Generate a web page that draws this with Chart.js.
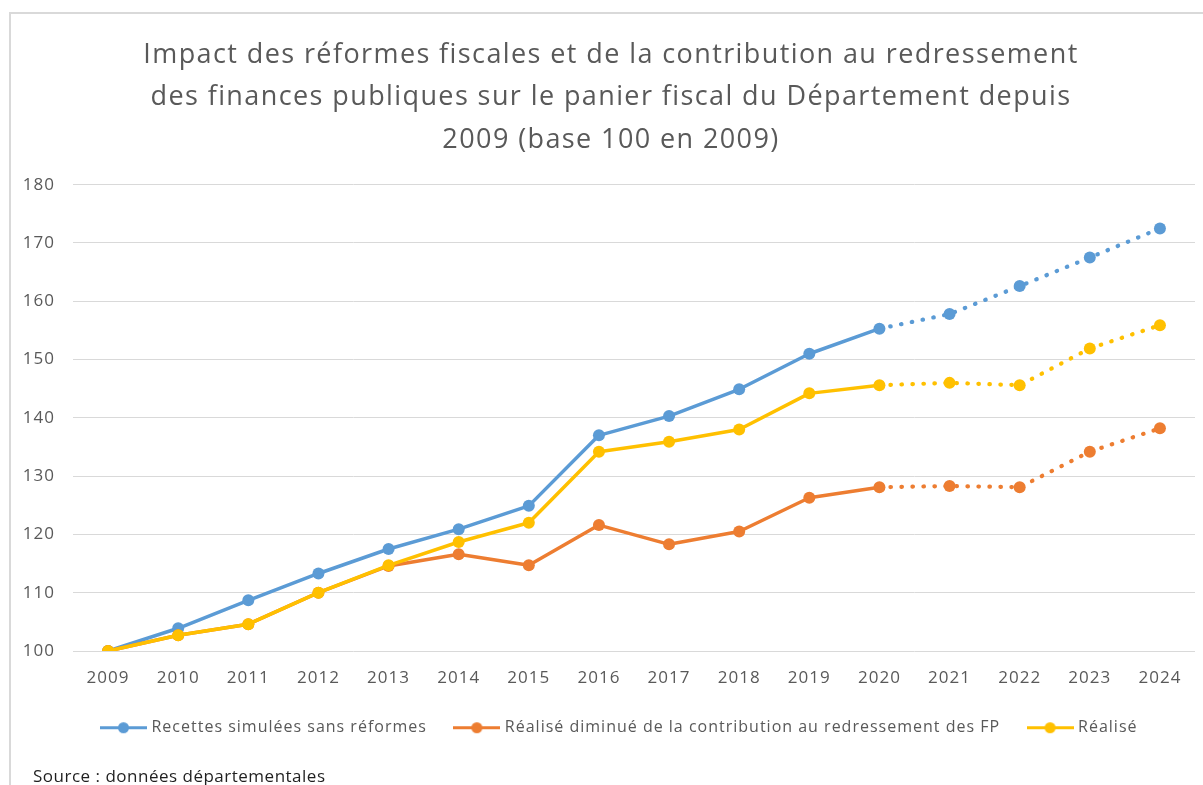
<!DOCTYPE html>
<html>
<head>
<meta charset="utf-8">
<script src="https://cdn.jsdelivr.net/npm/chart.js@4.4.1/dist/chart.umd.min.js"></script>
<style>
  html, body { margin: 0; padding: 0; background: #ffffff; }
  #wrap { position: relative; width: 1203px; height: 785px; overflow: hidden; }
  #frame { position: absolute; left: 9px; top: 12px; width: 1300px; height: 900px;
           border-top: 2px solid #d9d9d9; border-left: 2px solid #d9d9d9; }
  #c { position: absolute; left: 0; top: 0; }
  #source { position: absolute; left: 33px; top: 764px; font-family: "Open Sans", sans-serif;
            font-size: 17px; line-height: 1.362; letter-spacing: 0.5px; color: #1f1f1f; white-space: nowrap; }
</style>
</head>
<body>
<div id="wrap">
  <div id="frame"></div>
  <canvas id="c" width="1203" height="785"></canvas>
  <div id="source">Source : données départementales</div>
</div>
<script>
// ---- data ----
const years = ['2009','2010','2011','2012','2013','2014','2015','2016','2017','2018','2019','2020','2021','2022','2023','2024'];
const projectionFrom = '2020';
const recettesSimulees = [100, 103.9, 108.7, 113.3, 117.5, 120.9, 124.9, 137.0, 140.3, 144.9, 151.0, 155.3, 157.8, 162.6, 167.5, 172.5];
const realiseDiminue   = [100, 102.7, 104.6, 110.0, 114.6, 116.6, 114.7, 121.6, 118.3, 120.5, 126.3, 128.1, 128.3, 128.1, 134.2, 138.2];
const realise          = [100, 102.7, 104.6, 110.0, 114.7, 118.7, 122.0, 134.2, 135.9, 138.0, 144.2, 145.6, 146.0, 145.6, 151.9, 155.9];
const seriesNames = ['Recettes simulées sans réformes', 'Réalisé diminué de la contribution au redressement des FP', 'Réalisé'];
const titleLines = ['Impact des réformes fiscales et de la contribution au redressement',
                    'des finances publiques sur le panier fiscal du Département depuis',
                    '2009 (base 100 en 2009)'];
const yTicks = { min: 100, max: 180, step: 10 };

// ---- styling ----
const BLUE = '#5B9BD5', ORANGE = '#ED7D31', YELLOW = '#FFC000';
const TEXT = '#595959';
const projIdx = years.indexOf(projectionFrom);

const canvas = document.getElementById('c');
const ctx = canvas.getContext('2d');
// wider letter spacing to mimic the stretched original text
const fontDesc = Object.getOwnPropertyDescriptor(CanvasRenderingContext2D.prototype, 'font');
Object.defineProperty(ctx, 'font', {
  configurable: true,
  get() { return fontDesc.get.call(this); },
  set(v) {
    fontDesc.set.call(this, v);
    const m = /(\d+(?:\.\d+)?)px/.exec(v);
    const s = m ? parseFloat(m[1]) : 12;
    let sp = 0;
    if (s >= 24) sp = 1.4; else if (s >= 15.5) sp = 1.0;
    this.letterSpacing = sp + 'px';
  }
});

function legendIcon(color) {
  const c = document.createElement('canvas');
  c.width = 47; c.height = 13;
  const g = c.getContext('2d');
  g.strokeStyle = color; g.lineWidth = 3;
  g.beginPath(); g.moveTo(0, 6.5); g.lineTo(47, 6.5); g.stroke();
  g.fillStyle = color;
  g.beginPath(); g.arc(23.5, 6.5, 5.5, 0, Math.PI * 2); g.fill();
  return c;
}

function makeDataset(label, data, color, order) {
  return {
    label, data,
    borderColor: color, backgroundColor: color,
    pointBackgroundColor: color, pointBorderColor: color,
    borderWidth: 3.5, pointRadius: 6, pointHoverRadius: 6, pointBorderWidth: 0,
    tension: 0, order,
    borderCapStyle: 'round', borderJoinStyle: 'round',
    segment: {
      borderDash: c => c.p0DataIndex >= projIdx ? [0.5, 10.5] : undefined,
      borderWidth: c => c.p0DataIndex >= projIdx ? 4.2 : undefined
    },
    legendIcon: legendIcon(color)
  };
}

// title and legend in the original are centred slightly right of the plot
const shiftBlocks = {
  id: 'shiftBlocks',
  afterLayout(chart) {
    if (chart.titleBlock) chart.titleBlock.left += 27;
    if (chart.legend) chart.legend.left += 46;
  }
};

Chart.defaults.font.family = '"Open Sans", sans-serif';

new Chart(ctx, {
  type: 'line',
  data: {
    labels: years,
    datasets: [
      makeDataset(seriesNames[0], recettesSimulees, BLUE, 3),
      makeDataset(seriesNames[1], realiseDiminue, ORANGE, 2),
      makeDataset(seriesNames[2], realise, YELLOW, 1)
    ]
  },
  plugins: [shiftBlocks],
  options: {
    responsive: false,
    animation: false,
    devicePixelRatio: 1,
    layout: { padding: { left: 0, right: 8, top: 0, bottom: 39.3 } },
    plugins: {
      tooltip: { enabled: false },
      title: {
        display: true,
        text: titleLines,
        color: TEXT,
        font: { size: 27, weight: 'normal', lineHeight: 1.574 },
        padding: { top: 34, bottom: 23.2 }
      },
      legend: {
        position: 'bottom',
        labels: {
          color: TEXT,
          font: { size: 16 },
          usePointStyle: true,
          pointStyleWidth: 40,
          padding: 30,
          sort: (a, b) => a.datasetIndex - b.datasetIndex,
          generateLabels: (chart) => {
            const items = Chart.defaults.plugins.legend.labels.generateLabels(chart);
            items.forEach(it => { it.pointStyle = chart.data.datasets[it.datasetIndex].legendIcon; });
            return items;
          }
        }
      }
    },
    scales: {
      x: {
        offset: true,
        grid: { display: false, drawTicks: false },
        border: { display: false },
        ticks: { color: TEXT, font: { size: 17 }, padding: 17, maxRotation: 0, autoSkip: false },
        afterFit: s => { s.height = 38.7; }
      },
      y: {
        min: yTicks.min, max: yTicks.max,
        grid: { color: '#d9d9d9', lineWidth: 1, drawTicks: false },
        border: { display: false },
        ticks: { stepSize: yTicks.step, color: TEXT, font: { size: 17 }, padding: 18 },
        afterFit: s => { s.width = 73; }
      }
    }
  }
});
</script>
</body>
</html>
